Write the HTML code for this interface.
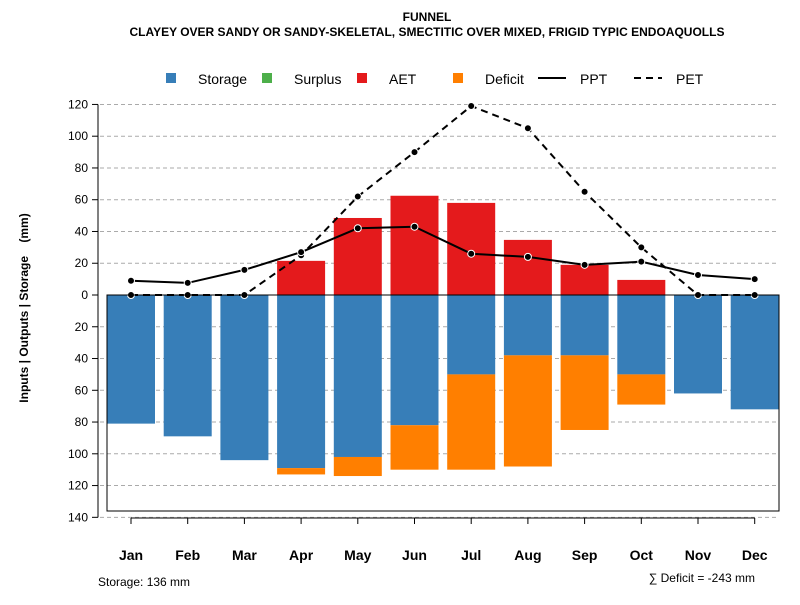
<!DOCTYPE html>
<html><head><meta charset="utf-8"><style>
body{margin:0;background:#fff;font-family:"Liberation Sans",sans-serif}
</style></head><body>
<svg id="c" width="800" height="600" xmlns="http://www.w3.org/2000/svg" font-family="Liberation Sans, sans-serif">
<text x="427" y="21" text-anchor="middle" font-size="12" font-weight="bold">FUNNEL</text>
<text x="427" y="36" text-anchor="middle" font-size="12" font-weight="bold">CLAYEY OVER SANDY OR SANDY-SKELETAL, SMECTITIC OVER MIXED, FRIGID TYPIC ENDOAQUOLLS</text>
<g font-size="14">
<rect x="166" y="73" width="10" height="10" fill="#377eb8"/><text x="198" y="84">Storage</text>
<rect x="262" y="73" width="10" height="10" fill="#4daf4a"/><text x="294" y="84">Surplus</text>
<rect x="357" y="73" width="10" height="10" fill="#e41a1c"/><text x="389" y="84">AET</text>
<rect x="453" y="73" width="10" height="10" fill="#ff7f00"/><text x="485" y="84">Deficit</text>
<line x1="538" y1="78" x2="566" y2="78" stroke="#000" stroke-width="2"/><text x="580" y="84">PPT</text>
<line x1="634" y1="78" x2="662" y2="78" stroke="#000" stroke-width="2" stroke-dasharray="7,5"/><text x="676" y="84">PET</text>
</g>
<text transform="translate(28,308) rotate(-90)" text-anchor="middle" font-size="12" font-weight="bold">Inputs | Outputs | Storage&#160;&#160;&#160;&#160;(mm)</text>
<g id="grid"></g><g id="bars"></g><g id="lines"></g><g id="axes"></g>
<text x="98" y="586" font-size="12">Storage: 136 mm</text>
<text x="755" y="582" text-anchor="end" font-size="12">∑ Deficit = -243 mm</text>
</svg>
<script>
const months=["Jan","Feb","Mar","Apr","May","Jun","Jul","Aug","Sep","Oct","Nov","Dec"];
const storage=[81,89,104,109,102,82,50,38,38,50,62,72];
const deficit=[0,0,0,4,12,28,60,70,47,19,0,0];
const aet=[0,0,0,21.5,48.5,62.5,58,34.7,19,9.5,0,0];
const ppt=[9,7.6,15.8,27,42,43,26,24,19,21,12.6,10];
const pet=[0,0,0,25,62,90,119,105,65,30,0,0];
const yTicks=[120,100,80,60,40,20,0,20,40,60,80,100,120,140];
const NS="http://www.w3.org/2000/svg";
const x=i=>131+i*56.7;
const y=v=>295-v*1.588;
function mk(p,t,a){const e=document.createElementNS(NS,t);for(const k in a)e.setAttribute(k,a[k]);document.getElementById(p).appendChild(e);return e;}
yTicks.forEach((t,i)=>{const v=i<6?t:-t;const yy=y(v);
 if(v!==0){const g=mk('grid','line',{x1:100,x2:779,y1:yy,y2:yy,stroke:'#aaa','stroke-dasharray':'4,3'});
 
 }
 const tk=mk('axes','line',{x1:92,x2:98,y1:yy,y2:yy,stroke:'#000'});
 
 
 const l=mk('axes','text',{x:88,y:yy+4,'text-anchor':'end','font-size':12});l.textContent=t;
 
 
});
const ax=mk('axes','line',{x1:98,x2:98,y1:y(120),y2:y(-140),stroke:'#000'});


const bw=48;
months.forEach((m,i)=>{
 const s=mk('bars','rect',{x:x(i)-bw/2,y:y(0),width:bw,height:y(-storage[i])-y(0),fill:'#377eb8'});
 
 
 if(deficit[i]>0){const d=mk('bars','rect',{x:x(i)-bw/2,y:y(-storage[i]),width:bw,height:y(-storage[i]-deficit[i])-y(-storage[i]),fill:'#ff7f00'});
 
 }
 if(aet[i]>0){const a=mk('bars','rect',{x:x(i)-bw/2,y:y(aet[i]),width:bw,height:y(0)-y(aet[i]),fill:'#e41a1c'});
 
 }
 const t=mk('axes','line',{x1:x(i),x2:x(i),y1:518,y2:524,stroke:'#000'});
 
 
 const l=mk('axes','text',{x:x(i),y:560,'text-anchor':'middle','font-size':14,'font-weight':'bold'});l.textContent=m;
 
 
});
const fr=mk('axes','path',{d:`M107,${y(0)} V511 H779 V${y(0)} Z`,fill:'none',stroke:'#000'});


const xa=mk('axes','line',{x1:x(0),x2:x(11),y1:518,y2:518,stroke:'#000'});


function series(vals,dash,name){
 const p=mk('lines','polyline',{points:vals.map((v,i)=>x(i)+','+y(v)).join(' '),fill:'none',stroke:'#000','stroke-width':2,'stroke-dasharray':dash});
 
 
 vals.forEach((v,i)=>{const c=mk('lines','circle',{cx:x(i),cy:y(v),r:3.5,fill:'#000',stroke:'#fff','stroke-width':1});
 
 });
}
series(pet,'7,5','pet');
series(ppt,'none','ppt');
</script>
</body></html>
